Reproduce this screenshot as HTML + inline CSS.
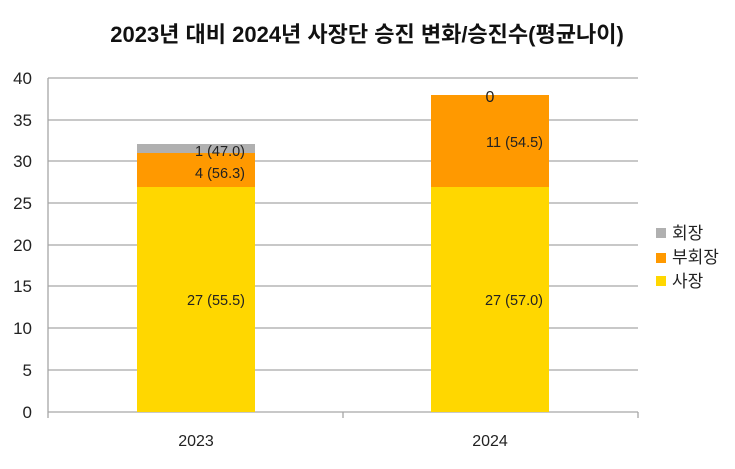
<!DOCTYPE html>
<html><head><meta charset="utf-8"><style>
body{margin:0;background:#fff;}
</style></head><body>
<svg width="735" height="464" xmlns="http://www.w3.org/2000/svg" font-family="'Liberation Sans','Noto Sans CJK KR',sans-serif">
<rect width="735" height="464" fill="#fff"/>
<text x="367" y="42" text-anchor="middle" font-size="22" font-weight="bold" fill="#111">2023년 대비 2024년 사장단 승진 변화/승진수(평균나이)</text>
<g stroke="#a6a6a6" stroke-width="1.3">
<line x1="48" x2="638" y1="78" y2="78"/>
<line x1="48" x2="638" y1="120" y2="120"/>
<line x1="48" x2="638" y1="161" y2="161"/>
<line x1="48" x2="638" y1="203" y2="203"/>
<line x1="48" x2="638" y1="245" y2="245"/>
<line x1="48" x2="638" y1="286" y2="286"/>
<line x1="48" x2="638" y1="328" y2="328"/>
<line x1="48" x2="638" y1="370" y2="370"/>
<line x1="48" x2="638" y1="412" y2="412"/>
<line x1="48" x2="48" y1="78" y2="412"/>
<line x1="343" x2="343" y1="412" y2="418"/>
<line x1="638" x2="638" y1="412" y2="418"/>
<line x1="48" x2="48" y1="412" y2="418"/>
</g>
<g font-size="17" fill="#222" text-anchor="end">
<text x="32" y="84">40</text><text x="32" y="126">35</text><text x="32" y="167">30</text>
<text x="32" y="209">25</text><text x="32" y="251">20</text><text x="32" y="292">15</text>
<text x="32" y="334">10</text><text x="32" y="376">5</text><text x="32" y="418">0</text>
</g>
<rect x="137" y="187" width="118" height="225" fill="#ffd700"/>
<rect x="137" y="153" width="118" height="34" fill="#ff9900"/>
<rect x="137" y="144" width="118" height="9" fill="#b0b0b0"/>
<rect x="431" y="187" width="118" height="225" fill="#ffd700"/>
<rect x="431" y="95" width="118" height="92" fill="#ff9900"/>
<g font-size="14.5" fill="#222" text-anchor="end">
<text x="245" y="156">1 (47.0)</text>
<text x="245" y="178">4 (56.3)</text>
<text x="245" y="305">27 (55.5)</text>
<text x="543" y="147">11 (54.5)</text>
<text x="543" y="305">27 (57.0)</text>
</g>
<text x="490" y="102" font-size="16" fill="#222" text-anchor="middle">0</text>
<g font-size="16" fill="#222">
<text x="196" y="446" text-anchor="middle">2023</text>
<text x="490" y="446" text-anchor="middle">2024</text>
</g>
<rect x="656" y="228" width="10" height="10" fill="#b0b0b0"/>
<rect x="656" y="253" width="10" height="10" fill="#ff9900"/>
<rect x="656" y="276" width="10" height="10" fill="#ffd700"/>
<g font-size="17" fill="#222">
<text x="672" y="239">회장</text>
<text x="672" y="263">부회장</text>
<text x="672" y="287">사장</text>
</g>
</svg>
</body></html>
